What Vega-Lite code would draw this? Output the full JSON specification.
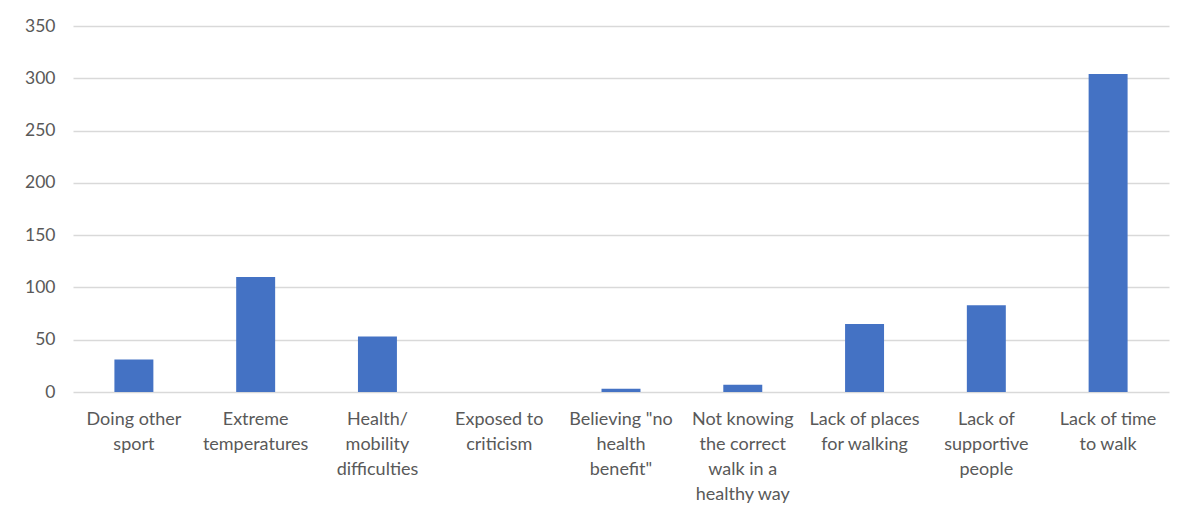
{
  "$schema": "https://vega.github.io/schema/vega-lite/v6.json",
  "autosize": {"type": "none"},
  "width": 1096,
  "height": 366,
  "padding": {"left": 73, "top": 26, "right": 20, "bottom": 128},
  "background": "white",
  "data": {
    "values": [
      {"reason": "Doing other\nsport", "count": 31},
      {"reason": "Extreme\ntemperatures", "count": 110},
      {"reason": "Health/\nmobility\ndifficulties", "count": 53},
      {"reason": "Exposed to\ncriticism", "count": 0},
      {"reason": "Believing \"no\nhealth\nbenefit\"", "count": 3},
      {"reason": "Not knowing\nthe correct\nwalk in a\nhealthy way", "count": 7},
      {"reason": "Lack of places\nfor walking", "count": 65},
      {"reason": "Lack of\nsupportive\npeople", "count": 83},
      {"reason": "Lack of time\nto walk", "count": 304}
    ]
  },
  "mark": {"type": "bar", "color": "#4472c4"},
  "encoding": {
    "x": {
      "field": "reason",
      "type": "nominal",
      "sort": null,
      "scale": {"paddingInner": 0.68, "paddingOuter": 0.34},
      "axis": {
        "title": null,
        "labelAngle": 0,
        "labelExpr": "split(datum.label, '\\n')",
        "labelFont": "Lato",
        "labelFontSize": 18,
        "labelColor": "#595959",
        "labelLineHeight": 25,
        "labelPadding": 18,
        "labelBaseline": "top",
        "domain": false,
        "ticks": false,
        "labelLimit": 200
      }
    },
    "y": {
      "field": "count",
      "type": "quantitative",
      "scale": {"domain": [0, 350]},
      "axis": {
        "title": null,
        "values": [0, 50, 100, 150, 200, 250, 300, 350],
        "labelFont": "Lato",
        "labelFontSize": 17.5,
        "labelColor": "#595959",
        "labelPadding": 18,
        "domain": false,
        "ticks": false,
        "gridColor": "#d9d9d9",
        "gridWidth": 1.3
      }
    }
  },
  "config": {"view": {"stroke": null}}
}
